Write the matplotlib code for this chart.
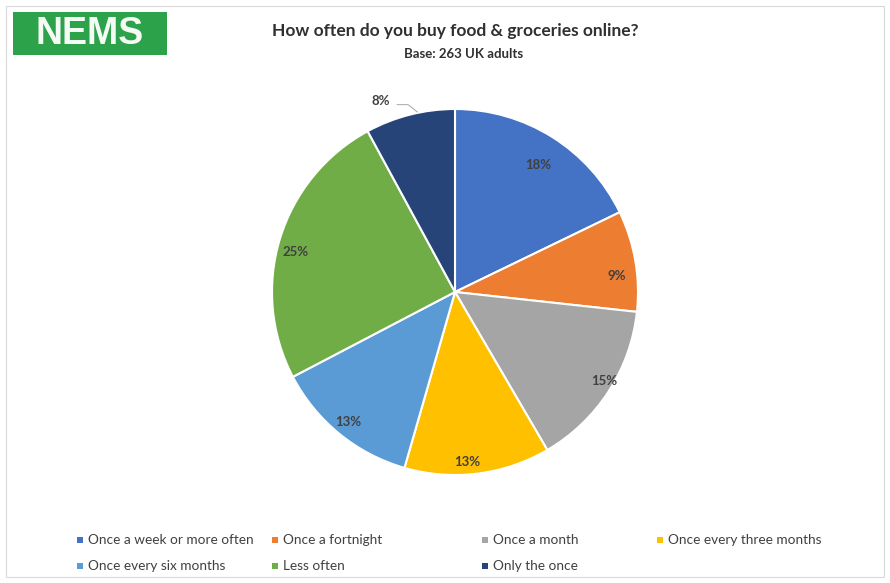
import matplotlib.pyplot as plt
import numpy as np
from matplotlib.patches import Rectangle

# survey answers and share of respondents (%)
categories = ["Once a week or more often", "Once a fortnight", "Once a month",
              "Once every three months", "Once every six months", "Less often",
              "Only the once"]
shares = [18, 9, 15, 13, 13, 25, 8]
colors = ["#4472C4", "#ED7D31", "#A5A5A5", "#FFC000", "#5B9BD5", "#70AD47", "#264478"]
# where each % label sits: distance from centre (radii) and turn from the slice middle (deg)
label_r = [0.83, 0.89, 0.95, 0.93, 0.92, 0.9, 1.12]
label_turn = [-1, -4, 2, -3, 0, 3, 7]

plt.rcParams['font.family'] = ['Lato', 'DejaVu Sans']

fig = plt.figure(figsize=(8.9, 5.83), dpi=100)
W, H = 890, 583

# light frame round the chart
fig.patches.append(Rectangle((6 / W, 6 / H), 878 / W, 571 / H, transform=fig.transFigure,
                             fill=False, edgecolor="#d9d9d9", linewidth=0.8))

# NEMS logo
fig.patches.append(Rectangle((13 / W, 1 - 55 / H), 154 / W, 43 / H, transform=fig.transFigure,
                             facecolor="#2ca24a", edgecolor="none"))
fig.text(90 / W, 1 - 34 / H, "NEMS", color="#f4fbf4", fontsize=27, fontweight="bold",
         ha="center", va="center", family=["Liberation Sans"])

# titles
fig.text(455 / W, 1 - 31 / H, "How often do you buy food & groceries online?", fontsize=12.5,
         fontweight="bold", color="#303030", ha="center", va="center")
fig.text(464 / W, 1 - 54 / H, "Base: 263 UK adults", fontsize=9.5, fontweight="bold",
         color="#303030", ha="center", va="center")

# pie
ax = fig.add_axes([(455 - 183) / W, (583 - 475) / H, 366 / W, 366 / H])
wedges, _ = ax.pie(shares, colors=colors, startangle=90, counterclock=False,
                   wedgeprops=dict(edgecolor="white", linewidth=1.5))
ax.set_xlim(-1, 1)
ax.set_ylim(-1, 1)
ax.set_aspect("equal")
ax.axis("off")

for w, v, r, t in zip(wedges, shares, label_r, label_turn):
    mid = np.deg2rad((w.theta1 + w.theta2) / 2 + t)
    x, y = r * np.cos(mid), r * np.sin(mid)
    ax.text(x, y, f"{v}%", ha="center", va="center", fontsize=9.5, fontweight="bold",
            color="#404040", clip_on=False)
    if r > 1:
        # leader line for the label that sits outside the pie
        ax.plot([x + 0.09, x + 0.15, x + 0.2], [y - 0.02, y - 0.02, y - 0.06],
                color="#a6a6a6", linewidth=0.7, clip_on=False)

# legend, laid out row by row in four columns
col_x = [80, 275, 485, 660]
row_y = [540, 566]
for i, (name, c) in enumerate(zip(categories, colors)):
    x = col_x[i % 4]
    y = row_y[i // 4]
    fig.patches.append(Rectangle(((x - 3) / W, 1 - (y + 3) / H), 6 / W, 6 / H,
                                 transform=fig.transFigure, facecolor=c, edgecolor="none"))
    fig.text((x + 8) / W, 1 - y / H, name, fontsize=9.8, color="#404040", va="center")

fig.savefig("out.png", dpi=100, facecolor="white")
